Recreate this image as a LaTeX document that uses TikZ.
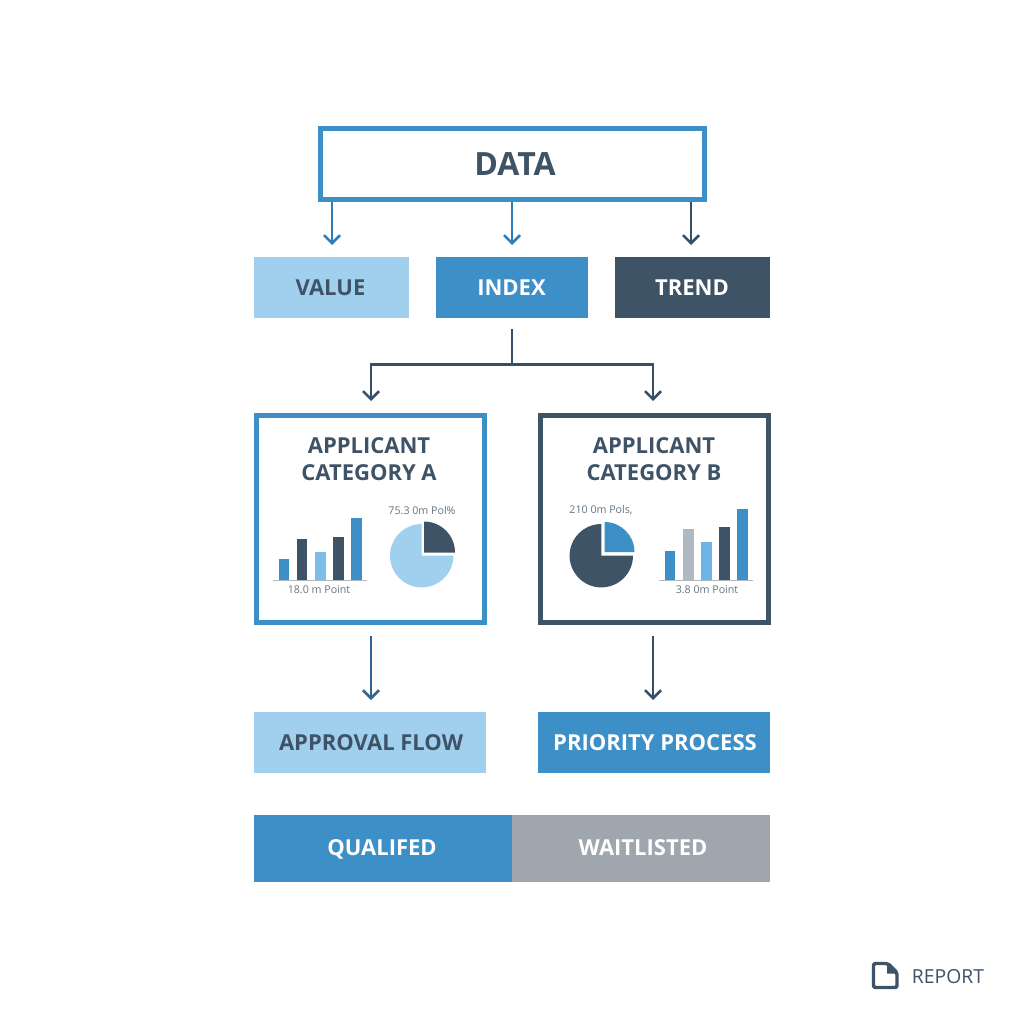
\documentclass[tikz,border=0pt]{standalone}
\usepackage{fontspec}
\setmainfont{Open Sans}
\usetikzlibrary{arrows.meta}
\definecolor{cblue}{HTML}{3D8FC7}
\definecolor{cdark}{HTML}{3F5367}
\definecolor{clight}{HTML}{A0D0EE}
\definecolor{cgray}{HTML}{9FA6AE}
\definecolor{csky}{HTML}{6DB5E8}
\definecolor{csilver}{HTML}{B0B8C0}
\definecolor{ctext}{HTML}{3F5367}
\definecolor{aroblue}{HTML}{2F7DB8}
\definecolor{arosteel}{HTML}{2F6590}
\definecolor{arodark}{HTML}{36506A}
\tikzset{
 x=0.75pt,y=-0.75pt,
 fillbox/.style={anchor=center,inner sep=0pt,outer sep=0pt,text height=11.8pt,text depth=0pt,font=\fontsize{16.5}{18}\selectfont\bfseries},
 conn/.style={line width=1.9pt,-{Straight Barb[length=6pt,width=12pt,line width=1.9pt]}},
 connb/.style={conn,draw=aroblue},
 connd/.style={conn,draw=arodark},
 conns/.style={conn,draw=arosteel},
 small/.style={font=\fontsize{8}{9}\selectfont,text=cdark!80,inner sep=0pt},
 card/.style={line width=3.75pt,fill=white},
 cardtitle/.style={font=\fontsize{16.5}{20}\selectfont\bfseries,text=ctext,align=center,inner sep=0pt},
}
\newcommand{\barrect}[4]{\fill[#4] (#1,#3) rectangle (#2,580);}
\begin{document}
\begin{tikzpicture}
\useasboundingbox (0,0) rectangle (1024,1024);
\fill[white] (0,0) rectangle (1024,1024);
% top box
\draw[cblue,line width=3.75pt,fill=white] (320,128.5) rectangle (704.5,199.5);
\node[inner sep=0pt,font=\fontsize{24}{26}\selectfont\bfseries,text=ctext] (data) at (515,164) {DATA};
\coordinate (d1) at (332,202); \coordinate (d2) at (512,202); \coordinate (d3) at (691,202);
% three boxes
\fill[clight] (254,257) rectangle (409,318);
\fill[cblue] (436,257) rectangle (588,318);
\fill[cdark] (615,257) rectangle (770,318);
\node[fillbox,text=ctext] (value) at (330.5,287.5) {VALUE};
\node[fillbox,text=white] (index) at (511.5,287.5) {INDEX};
\node[fillbox,text=white] (trend) at (692,287.5) {TREND};
\coordinate (v1) at (332,245); \coordinate (i1) at (512,245); \coordinate (t1) at (691,245);
\draw[connb] (d1) -- (v1);
\draw[connb] (d2) -- (i1);
\draw[connd] (d3) -- (t1);
% branch
\coordinate (bs) at (512,329); \coordinate (bm) at (512,364.5);
\coordinate (bl) at (371,401); \coordinate (br) at (653,401);
\draw[arodark,line width=1.9pt] (bs) -- (bm);
\draw[connd] (bm) -| (bl);
\draw[connd] (bm) -| (br);
% cards
\draw[card,draw=cblue] (256,415) rectangle (484,622);
\draw[card,draw=cdark] (540,415) rectangle (768,622);
\node[cardtitle] (ca) at (369,459) {APPLICANT\\CATEGORY A};
\node[cardtitle] (cb) at (654,459) {APPLICANT\\CATEGORY B};
% card A charts
\barrect{279}{289}{559}{cblue}
\barrect{297}{307}{539}{cdark}
\barrect{315}{326}{552}{csky!70!clight}
\barrect{333}{344}{537}{cdark}
\barrect{351}{362}{518}{cblue}
\draw[csilver,line width=0.75pt] (273,580) -- (367,580);
\node[small] (la) at (319,590) {18.0 m Point};
\fill[clight] (421.7,555.7) -- (421.7,524) arc (-90:-360:31.7) -- cycle;
\fill[cdark] (424,552.5) -- (424,521.5) arc (-90:0:31) -- cycle;
\node[small] (lb) at (422,511) {75.3 0m Pol\%};
% card B charts
\barrect{665}{675}{551}{cblue}
\barrect{683}{694}{529}{csilver}
\barrect{701}{712}{542}{csky}
\barrect{719}{730}{527}{cdark}
\barrect{737}{748}{509}{cblue}
\draw[csilver,line width=0.75pt] (659,580) -- (753,580);
\node[small] (lc) at (707,590) {3.8 0m Point};
\fill[cdark] (601.3,555.7) -- (601.3,524) arc (-90:-360:31.7) -- cycle;
\fill[cblue] (604.5,552) -- (604.5,522) arc (-90:0:30) -- cycle;
\node[small] (ld) at (601,510) {210 0m Pols,};
% arrows down
\coordinate (a1) at (371,636); \coordinate (a2) at (371,700);
\coordinate (b1) at (653,636); \coordinate (b2) at (653,700);
\draw[conns] (a1) -- (a2);
\draw[connd] (b1) -- (b2);
% lower boxes
\fill[clight] (254,712) rectangle (486,773);
\fill[cblue] (538,712) rectangle (770,773);
\node[fillbox,text=ctext] (ap) at (371,742.5) {APPROVAL FLOW};
\node[fillbox,text=white] (pr) at (655,742.5) {PRIORITY PROCESS};
% bottom bar
\fill[cblue] (254,815) rectangle (512,882);
\fill[cgray] (512,815) rectangle (770,882);
\node[fillbox,text=white] (q) at (382,848) {QUALIFED};
\node[fillbox,text=white] (w) at (643,848) {WAITLISTED};
% report
\draw[cdark,line width=2.6pt,line join=round,rounded corners=1.5pt] (873.5,963.5) -- (888,963.5) -- (897,972.5) -- (897,987.5) -- (873.5,987.5) -- cycle;
\fill[cdark] (887,964) -- (887,973.5) -- (896.5,973.5) -- cycle;
\node[inner sep=0pt,font=\fontsize{14.5}{16}\selectfont,text=cdark] (rep) at (948,977) {REPORT};
\end{tikzpicture}
\end{document}
